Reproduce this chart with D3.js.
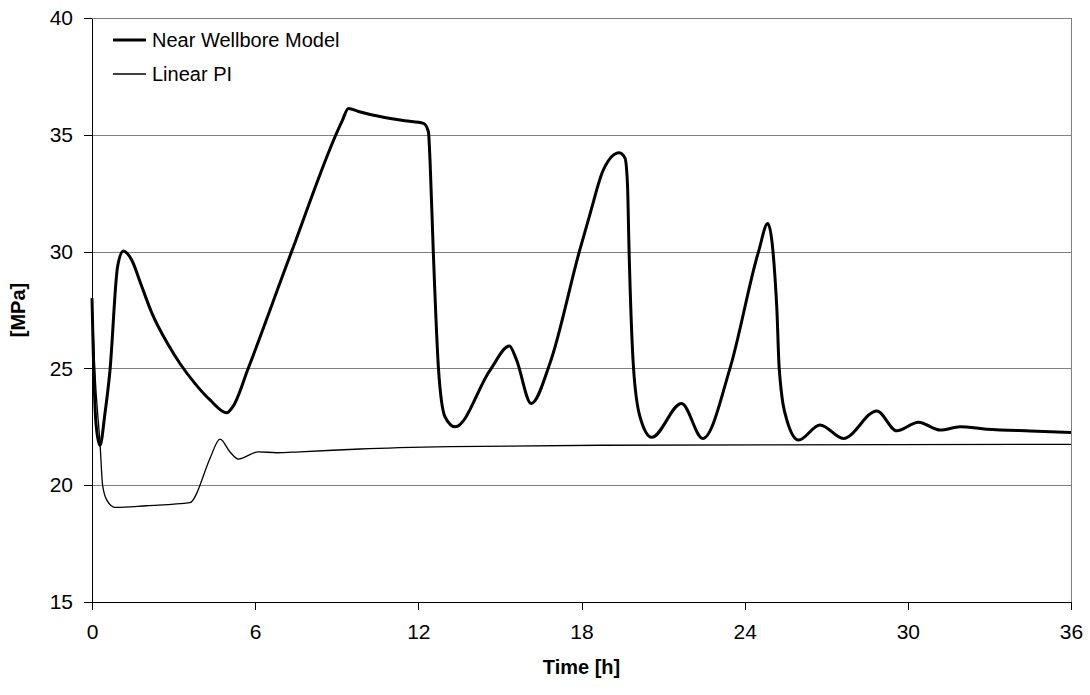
<!DOCTYPE html>
<html>
<head>
<meta charset="utf-8">
<script src="https://cdn.jsdelivr.net/npm/d3@7"></script>
<style>
    body { margin: 0; background: #fff; }
    svg text { font-family: Arial, "Liberation Sans", sans-serif; fill: #000; }
    .grid line { stroke: #808080; stroke-width: 1; }
    .axis path, .axis line { stroke: #000; stroke-width: 1; shape-rendering: crispEdges; }
    .axis text { font-size: 21px; }
    .line { fill: none; stroke: #000; stroke-linejoin: round; }
</style>
</head>
<body>
<div id="chart"></div>
<script>
const xTicks = [0, 6, 12, 18, 24, 30, 36];
const yTicks = [15, 20, 25, 30, 35, 40];

// Near Wellbore Model: time [h], pressure [MPa]
const nearTime = [0, 0.05, 0.15, 0.29, 0.48, 0.66, 0.94, 1.15, 1.46, 1.8, 2.19, 2.81, 3.24, 3.79, 4.34, 4.95, 5.2, 5.75, 7.34, 9.2, 9.43, 9.8, 10.59, 11.5, 12.19, 12.37, 12.43, 12.55, 12.74, 12.98, 13.35, 14.64, 15.35, 15.6, 16.15, 16.84, 17.92, 18.32, 18.8, 19.39, 19.6, 19.69, 19.75, 19.91, 20.15, 20.58, 21.68, 22.46, 23.46, 24.51, 24.85, 25.18, 25.27, 25.55, 25.98, 26.77, 27.63, 28.86, 29.59, 30.39, 31.19, 31.92, 32.9, 34.5, 36];
const nearValue = [28.0, 25.5, 22.6, 21.7, 23.1, 24.9, 29.35, 30.03, 29.64, 28.6, 27.4, 26.0, 25.2, 24.35, 23.65, 23.1, 23.4, 25.02, 30.0, 35.6, 36.13, 36.0, 35.78, 35.6, 35.49, 35.13, 33.9, 30.0, 25.0, 22.93, 22.5, 24.93, 25.96, 25.4, 23.5, 25.22, 30.0, 31.64, 33.49, 34.23, 34.0, 32.9, 30.0, 25.07, 22.93, 22.05, 23.5, 22.0, 25.0, 30.0, 31.2, 27.64, 25.0, 22.79, 21.93, 22.58, 22.0, 23.18, 22.33, 22.7, 22.36, 22.5, 22.4, 22.32, 22.26];

// Linear PI
const linTime = [0, 0.1, 0.3, 0.39, 0.54, 0.85, 2.0, 3.6, 3.85, 3.97, 4.34, 4.71, 5.07, 5.38, 6.12, 6.79, 7.65, 9.86, 13.17, 18.7, 25, 36];
const linValue = [28.0, 25.0, 21.7, 20.0, 19.37, 19.05, 19.12, 19.25, 19.65, 20.0, 21.15, 21.97, 21.43, 21.12, 21.43, 21.39, 21.43, 21.55, 21.65, 21.71, 21.73, 21.75];

const seriesNames = ['Near Wellbore Model', 'Linear PI'];

const width = 1090, height = 695;
const margin = {top: 18, right: 19, bottom: 93, left: 92};
const c = {
    width: width - margin.left - margin.right,
    height: height - margin.top - margin.bottom
};

c.x = d3.scaleLinear().domain([0, 36]).range([0, c.width]);
c.y = d3.scaleLinear().domain([15, 40]).range([c.height, 0]);

const svg = d3.select('#chart').append('svg')
    .attr('width', width)
    .attr('height', height);
c.svg = svg.append('g')
    .attr('transform', 'translate(' + margin.left + ',' + margin.top + ')');

// horizontal grid
c.svg.append('g').attr('class', 'grid')
    .selectAll('line')
    .data(yTicks.filter(d => d > 15))
    .join('line')
    .attr('x1', 0).attr('x2', c.width)
    .attr('y1', d => Math.round(c.y(d)) + 0.5)
    .attr('y2', d => Math.round(c.y(d)) + 0.5);

// right border of plot area
c.svg.append('line')
    .attr('x1', c.width + 0.5).attr('x2', c.width + 0.5)
    .attr('y1', 0).attr('y2', c.height)
    .attr('stroke', '#808080');

// axes
c.svg.append('g').attr('class', 'axis')
    .attr('transform', 'translate(0,' + c.height + ')')
    .call(d3.axisBottom(c.x).tickValues(xTicks).tickSize(8).tickSizeOuter(0).tickPadding(14))
    .selectAll('text').attr('dy', '0.71em');

c.svg.append('g').attr('class', 'axis')
    .call(d3.axisLeft(c.y).tickValues(yTicks).tickSize(8).tickSizeOuter(0).tickPadding(11));

// series
const line = d3.line()
    .x(d => c.x(d[0]))
    .y(d => c.y(d[1]))
    .curve(d3.curveMonotoneX);

const nearData = nearTime.map((t, i) => [t, nearValue[i]]);
const linData = linTime.map((t, i) => [t, linValue[i]]);

c.svg.append('path').attr('class', 'line')
    .attr('d', line(linData))
    .attr('stroke-width', 1.3);
c.svg.append('path').attr('class', 'line')
    .attr('d', line(nearData))
    .attr('stroke-width', 3);

// legend
const legend = svg.append('g').attr('transform', 'translate(113,40)');
seriesNames.forEach((name, i) => {
    const g = legend.append('g').attr('transform', 'translate(0,' + (i * 34) + ')');
    g.append('line')
        .attr('x1', 0).attr('x2', 33)
        .attr('stroke', '#000')
        .attr('stroke-width', i === 0 ? 3 : 1.3);
    g.append('text')
        .attr('x', 39)
        .attr('dy', '0.35em')
        .style('font-size', '20px')
        .text(name);
});

// axis titles
svg.append('text')
    .attr('x', margin.left + c.width / 2)
    .attr('y', 674)
    .attr('text-anchor', 'middle')
    .style('font-size', '20px')
    .style('font-weight', 'bold')
    .text('Time [h]');

svg.append('text')
    .attr('transform', 'translate(25,310) rotate(-90)')
    .attr('text-anchor', 'middle')
    .style('font-size', '20px')
    .style('font-weight', 'bold')
    .text('[MPa]');
</script>
</body>
</html>
